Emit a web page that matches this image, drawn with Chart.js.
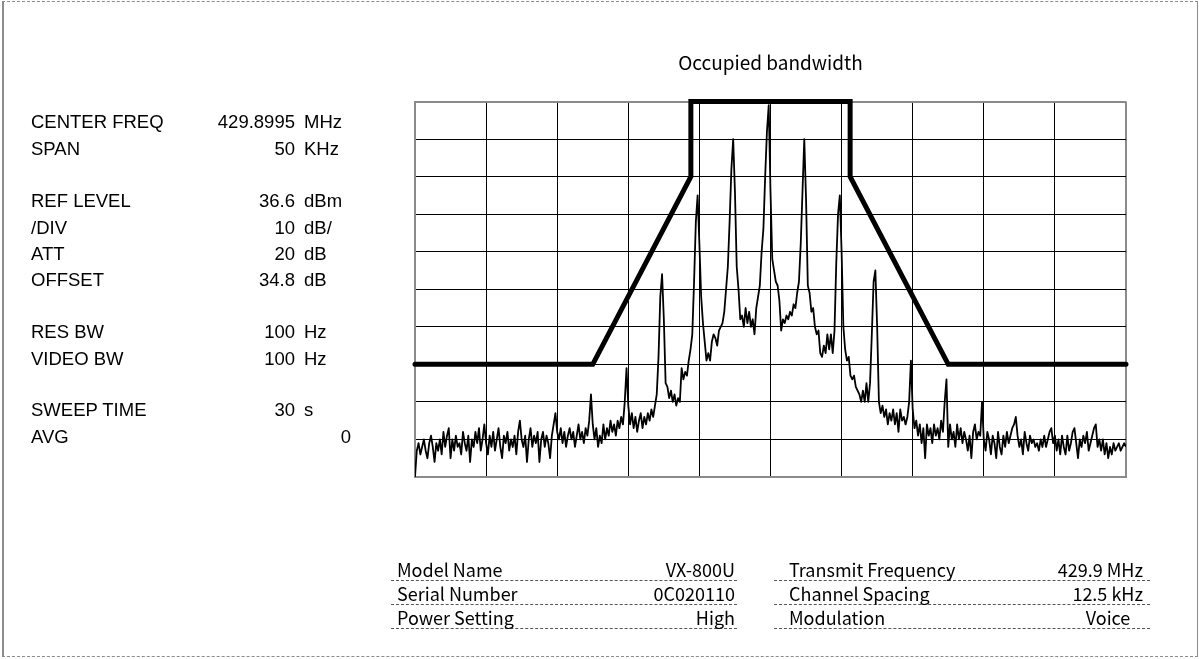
<!DOCTYPE html>
<html>
<head>
<meta charset="utf-8">
<script src="https://cdn.jsdelivr.net/npm/chart.js@4.4.1/dist/chart.umd.min.js"></script>
<style>
  html, body { margin: 0; padding: 0; background: #fff; }
  #page { position: relative; width: 1199px; height: 659px; overflow: hidden; color: #000; }
  #frame {
    position: absolute; left: 2px; top: 1px; width: 1193px; height: 654px;
    border-top: 1px dashed #8c8c8c; border-bottom: 1px dashed #8c8c8c;
    border-left: 2px solid #8c8c8c; border-right: 1px solid #8c8c8c;
  }
  #chart { position: absolute; left: 0; top: 0; }
  .set { position: absolute; left: 0; width: 400px; height: 26px; line-height: 26px;
         font-family: "Liberation Sans", Arial, sans-serif; font-size: 18.5px; white-space: nowrap; }
  .set span { position: absolute; top: 0; }
  .title { position: absolute; left: 415px; width: 711px; top: 48px; text-align: center;
           font-family: "Noto Sans CJK JP", sans-serif; font-size: 19px; line-height: 28px; }
  .info { position: absolute; height: 23px; border-bottom: 1px dashed #555;
          font-family: "Noto Sans CJK JP", sans-serif; font-size: 18px; line-height: 24px; white-space: nowrap; }
  .info span { position: absolute; top: 0; }
</style>
</head>
<body>
<div id="page">
  <div id="frame"></div>
  <canvas id="chart" width="1199" height="659"></canvas>
  <div class="title" id="title"></div>
  <div id="settings"></div>
  <div id="infoTable"></div>
</div>
<script>
// sweep: 401 points across the 50 kHz span, level in dB below the reference level
const sweepStartKHz = -25;
const sweepStepKHz = 0.125;
const traceDb = [
  -100,-93,-91,-94,-92,-90,-93,-95,-91,-89,-92,-96,-91,-93,-90,-94,-88,-92,-89,-87,
  -95,-90,-93,-89,-92,-91,-94,-88,-91,-93,-89,-96,-90,-92,-88,-91,-87,-93,-90,-86,
  -91,-94,-89,-92,-88,-93,-90,-87,-92,-95,-89,-91,-88,-93,-90,-92,-89,-94,-88,-85,
  -90,-92,-89,-96,-90,-87,-92,-89,-91,-88,-96,-90,-88,-92,-89,-91,-95,-89,-86,-83,
  -88,-90,-87,-91,-88,-92,-89,-87,-90,-88,-92,-89,-86,-90,-88,-91,-87,-89,-85,-78,
  -86,-90,-87,-92,-89,-91,-86,-90,-87,-89,-85,-88,-86,-89,-85,-87,-84,-86,-80,-71,
  -81,-86,-83,-87,-84,-88,-85,-83,-87,-84,-86,-83,-85,-82,-84,-81,-78,-68,-52,-46,
  -58,-75,-76,-79,-77,-80,-78,-81,-79,-80,-71,-74,-72,-73,-69,-66,-62,-48,-32,-25,
  -38,-52,-59,-64,-69,-67,-69,-64,-62,-63,-65,-61,-60,-59,-56,-50,-44,-32,-18,-10,
  -24,-44,-50,-58,-57,-60,-55,-59,-56,-60,-58,-62,-55,-52,-49,-40,-34,-20,-8,-1,
  -24,-42,-45,-48,-49,-53,-61,-58,-59,-57,-58,-56,-57,-54,-55,-51,-48,-38,-24,-10,
  -26,-49,-51,-56,-55,-60,-62,-61,-67,-68,-65,-67,-62,-66,-62,-67,-61,-43,-30,-25,
  -40,-60,-66,-69,-68,-73,-74,-73,-76,-77,-78,-80,-77,-80,-75,-80,-75,-62,-48,-45,
  -60,-80,-83,-81,-84,-82,-86,-83,-85,-82,-86,-83,-88,-82,-85,-84,-86,-84,-80,-69,
  -82,-87,-85,-89,-86,-91,-87,-95,-86,-89,-87,-91,-86,-89,-87,-90,-85,-88,-80,-74,
  -92,-86,-90,-88,-92,-86,-90,-87,-91,-88,-90,-93,-89,-95,-88,-86,-90,-88,-89,-80,
  -90,-93,-88,-90,-94,-89,-91,-95,-88,-92,-94,-89,-92,-88,-91,-89,-87,-86,-84,-89,
  -92,-90,-94,-88,-91,-93,-89,-91,-90,-92,-91,-93,-90,-92,-89,-92,-90,-88,-87,-91,
  -89,-93,-90,-94,-89,-92,-94,-89,-93,-91,-88,-87,-91,-95,-90,-92,-89,-91,-88,-93,
  -91,-89,-87,-86,-92,-90,-93,-90,-94,-91,-95,-92,-94,-91,-93,-92,-91,-93,-92,-91,
  -92
];

// occupied bandwidth mask
const maskKHz = [-25, -12.5, -5.6, -5.6, 5.6, 5.6, 12.5, 25];
const maskDb = [-70, -70, -20, 0, 0, -20, -70, -70];

const spanKHz = [-25, 25];
const levelDb = [-100, 0];
const divKHz = 5;
const divDb = 10;

const chartTitle = 'Occupied bandwidth';

const settingLabels = ['CENTER FREQ', 'SPAN', 'REF LEVEL', '/DIV', 'ATT', 'OFFSET', 'RES BW', 'VIDEO BW', 'SWEEP TIME', 'AVG'];
const settingValues = ['429.8995', '50', '36.6', '10', '20', '34.8', '100', '100', '30', '0'];
const settingUnits = ['MHz', 'KHz', 'dBm', 'dB/', 'dB', 'dB', 'Hz', 'Hz', 's', ''];

const infoLeftLabels = ['Model Name', 'Serial Number', 'Power Setting'];
const infoLeftValues = ['VX-800U', '0C020110', 'High'];
const infoRightLabels = ['Transmit Frequency', 'Channel Spacing', 'Modulation'];
const infoRightValues = ['429.9 MHz', '12.5 kHz', 'Voice'];

// ---- text blocks ----
document.getElementById('title').textContent = chartTitle;

const settingTops = [109, 135.7, 188.3, 214.5, 240.7, 266.7, 319, 345.7, 397.3, 424];
const settingsEl = document.getElementById('settings');
settingLabels.forEach((label, i) => {
  const row = document.createElement('div');
  row.className = 'set';
  row.style.top = settingTops[i] + 'px';
  const l = document.createElement('span');
  l.style.left = '31px';
  l.textContent = label;
  const v = document.createElement('span');
  v.style.right = settingUnits[i] ? (400 - 295) + 'px' : (400 - 351) + 'px';
  v.textContent = settingValues[i];
  row.appendChild(l);
  row.appendChild(v);
  if (settingUnits[i]) {
    const u = document.createElement('span');
    u.style.left = '304px';
    u.textContent = settingUnits[i];
    row.appendChild(u);
  }
  settingsEl.appendChild(row);
});

const infoTops = [557, 581, 605];
const tableEl = document.getElementById('infoTable');
// valueAlign: 'right' puts the value flush at valueRight, 'center' centres it on valueCenter
function addInfo(left, width, labels, values, labelPad, valueRight, valueAlign, valueCenter) {
  labels.forEach((label, i) => {
    const cell = document.createElement('div');
    cell.className = 'info';
    cell.style.left = left + 'px';
    cell.style.width = width + 'px';
    cell.style.top = infoTops[i] + 'px';
    const l = document.createElement('span');
    l.style.left = labelPad + 'px';
    l.textContent = label;
    const v = document.createElement('span');
    if (valueAlign[i] === 'center') {
      v.style.left = valueCenter + 'px';
      v.style.transform = 'translateX(-50%)';
    } else {
      v.style.right = valueRight + 'px';
    }
    v.textContent = values[i];
    cell.appendChild(l);
    cell.appendChild(v);
    tableEl.appendChild(cell);
  });
}
addInfo(391, 346, infoLeftLabels, infoLeftValues, 6, 2, ['right', 'right', 'right'], 0);
addInfo(774, 376, infoRightLabels, infoRightValues, 15, 7, ['right', 'right', 'center'], 1108 - 774);

// ---- chart ----
const tracePoints = traceDb.map((db, i) => ({ x: sweepStartKHz + i * sweepStepKHz, y: db }));
const maskPoints = maskKHz.map((f, i) => ({ x: f, y: maskDb[i] }));

const edgeColor = '#8a8a8a';
const gridOpts = (count) => ({
  drawTicks: false,
  color: (c) => (c.index === 0 || c.index === count) ? edgeColor : '#000',
  lineWidth: (c) => (c.index === 0 || c.index === count) ? 2 : 1,
});

new Chart(document.getElementById('chart').getContext('2d'), {
  type: 'line',
  data: {
    datasets: [
      {
        label: 'Mask',
        data: maskPoints,
        borderColor: '#000',
        borderWidth: 5,
        borderJoinStyle: 'miter',
        borderCapStyle: 'round',
        pointRadius: 0,
        tension: 0,
        clip: false,
        order: 0,
      },
      {
        label: 'Trace',
        data: tracePoints,
        borderColor: '#000',
        borderWidth: 1.8,
        borderJoinStyle: 'round',
        pointRadius: 0,
        tension: 0,
        order: 1,
      },
    ],
  },
  options: {
    responsive: false,
    animation: false,
    devicePixelRatio: 1,
    layout: { padding: { left: 415, top: 101.5, right: 73, bottom: 182 } },
    plugins: { legend: { display: false }, tooltip: { enabled: false }, title: { display: false } },
    scales: {
      x: {
        type: 'linear',
        min: spanKHz[0],
        max: spanKHz[1],
        ticks: { display: false, stepSize: divKHz },
        grid: gridOpts((spanKHz[1] - spanKHz[0]) / divKHz),
        border: { display: true, color: edgeColor, width: 2 },
      },
      y: {
        type: 'linear',
        min: levelDb[0],
        max: levelDb[1],
        ticks: { display: false, stepSize: divDb },
        grid: gridOpts((levelDb[1] - levelDb[0]) / divDb),
        border: { display: true, color: edgeColor, width: 2 },
      },
    },
  },
});
</script>
</body>
</html>
